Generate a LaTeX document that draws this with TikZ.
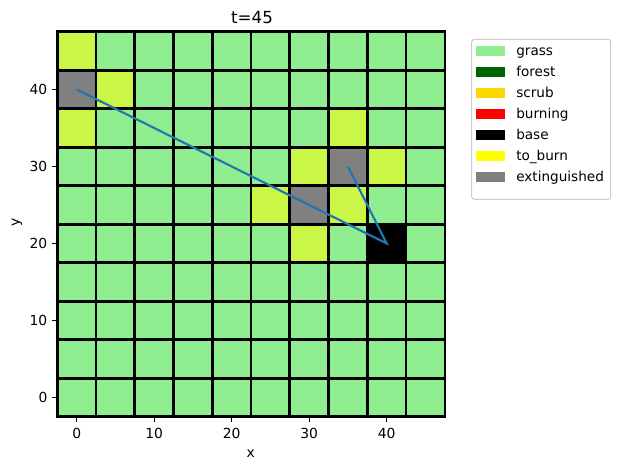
\documentclass[tikz,border=0pt]{standalone}
\usepackage{fontspec}
\usetikzlibrary{calc}
\setmainfont{DejaVu Sans}
\definecolor{grass}{HTML}{90EE90}
\definecolor{forest}{HTML}{006400}
\definecolor{scrub}{HTML}{FFD700}
\definecolor{burning}{HTML}{FF0000}
\definecolor{base}{HTML}{000000}
\definecolor{toburn}{HTML}{FFFF00}
\definecolor{extinguished}{HTML}{808080}
\definecolor{lime}{RGB}{202,246,70}
\definecolor{mplblue}{HTML}{1F77B4}
\definecolor{legedge}{HTML}{CCCCCC}
\begin{document}
\begin{tikzpicture}[x=0.75pt,y=0.75pt,
  cell/.style={draw=black,line width=2pt},
  blueline/.style={draw=mplblue,line width=1.6pt},
  ticklab/.style={font=\fontsize{10.4}{12}\selectfont,inner sep=0pt},
  legpatch/.style={minimum width=22pt,minimum height=7.5pt,inner sep=0pt,draw=none},
  legtext/.style={font=\fontsize{10.2}{12}\selectfont,inner sep=0pt,anchor=base west}]
\useasboundingbox (0,0) rectangle (620,470);
\fill[white] (0,0) rectangle (620,470);
\begin{scope}[shift={(57.525pt,54.375pt)}, x=5.8125pt, y=5.775pt]
  % grass cells
  \foreach \i in {0,...,9}{
    \foreach \j in {0,...,9}{
      \draw[cell,fill=grass] ({5*\i-2.5},{5*\j-2.5}) rectangle +(5,5);
    }
  }
  % special cells
  \foreach \cx/\cy/\col in {0/45/lime,0/40/extinguished,5/40/lime,0/35/lime,35/35/lime,
      30/30/lime,35/30/extinguished,40/30/lime,25/25/lime,30/25/extinguished,35/25/lime,
      30/20/lime,40/20/base}{
    \draw[cell,fill=\col] ({\cx-2.5},{\cy-2.5}) rectangle +(5,5);
  }
  % ticks and labels
  \foreach \v in {0,10,20,30,40}{
    \draw[line width=0.6pt] (\v,-2.5) -- ++(0,-3.65pt);
    \node[ticklab,anchor=base] (xt\v) at ($(\v,-2.5)+(0,-16.5pt)$) {\v};
    \draw[line width=0.6pt] (-2.5,\v) -- ++(-3.65pt,0);
    \node[ticklab,anchor=east] (yt\v) at ($(-2.5,\v)+(-7.3pt,0)$) {\v};
  }
  % trajectory
  \coordinate (p1) at (0,40);
  \coordinate (p2) at (40,20);
  \coordinate (p3) at (35,30);
  \draw[blueline] (p1) -- (p2) -- (p3);
\end{scope}
% axis labels and title
\node[ticklab,anchor=base] (xlab) at (250.7,12) {x};
\node[ticklab,rotate=90] (ylab) at (17,248) {y};
\node[font=\fontsize{12.5}{15}\selectfont,inner sep=0pt,anchor=base] (title) at (252,446) {t=45};
% legend
\draw[legedge,fill=white,rounded corners=2pt,line width=0.75pt] (471.7,270.7) rectangle (610.7,430.7);
\foreach \k/\col/\lab in {0/grass/grass,1/forest/forest,2/scrub/scrub,3/burning/burning,
    4/base/base,5/toburn/to\_burn,6/extinguished/extinguished}{
  \node[legpatch,fill=\col] (lp\k) at (490.35,{470-50.7-21.05*\k}) {};
  \node[legtext] (lt\k) at (516,{470-55.7-21.05*\k}) {\lab};
}
\end{tikzpicture}
\end{document}
